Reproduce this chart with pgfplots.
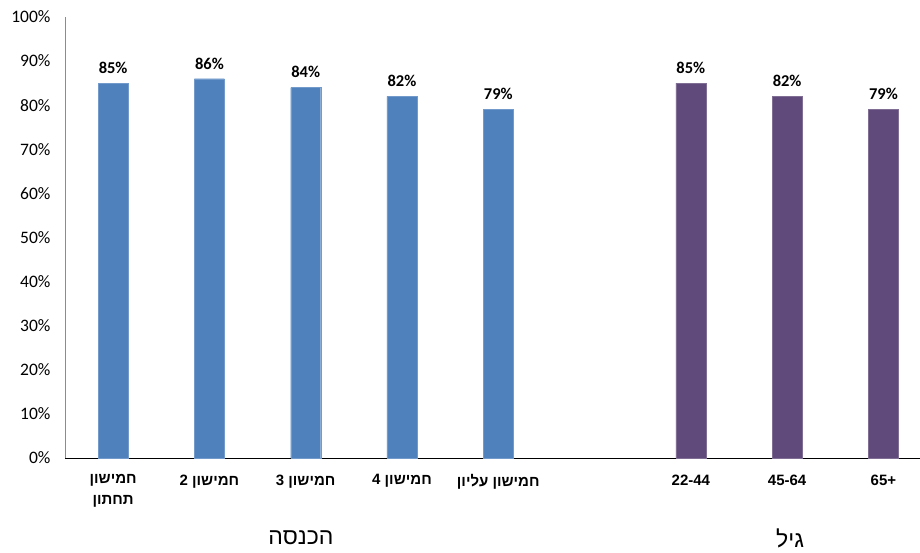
\documentclass[border=0pt]{standalone}
\usepackage{fontspec}
\usepackage{pgfplots}
\pgfplotsset{compat=1.18}
\setmainfont{Carlito}
\newfontfamily\heb[Script=Hebrew]{Liberation Sans}
\newfontfamily\lat{Liberation Sans}
\TeXXeTstate=1
\definecolor{cblue}{HTML}{4F81BD}
\definecolor{cpurple}{HTML}{604A7B}
\begin{document}
\begin{tikzpicture}
\useasboundingbox (0,0) rectangle (920pt,552pt);
\begin{axis}[
  at={(65pt,94pt)}, anchor=south west,
  scale only axis, width=855pt, height=441pt,
  ymin=0, ymax=100, xmin=-0.5, xmax=8.38,
  ytick={0,10,...,100},
  yticklabel={\pgfmathprintnumber{\tick}\%},
  /pgf/number format/assume math mode=true,
  yticklabel style={font=\fontsize{17.5}{19}\selectfont, xshift=-11pt},
  xtick={0,1,2,3,4,6,7,8},
  xticklabels={{\beginR חמישון\endR\\\beginR תחתון\endR},{\beginR חמישון 2\endR},{\beginR חמישון 3\endR},{\beginR חמישון 4\endR},{\beginR חמישון עליון\endR},{\lat 22-44},{\lat 45-64},{\lat 65+}},
  xticklabel style={font=\heb\bfseries\fontsize{15}{21}\selectfont, align=center, anchor=north, yshift=-13pt},
  major tick length=0pt,
  axis x line*=bottom, axis y line*=left,
  x axis line style={black, line width=1pt, -},
  y axis line style={gray!90, line width=0.8pt, -},
  clip=false,
  ybar, bar width=30pt, bar shift=0pt,
  nodes near coords={\pgfmathprintnumber{\pgfplotspointmeta}\%},
  nodes near coords style={font=\bfseries\fontsize{16.5}{18}\selectfont, black, yshift=6pt},
]
\addplot[fill=cblue, draw=cblue!80!white] coordinates {(0,85) (1,86) (2,84) (3,82) (4,79)};
\addplot[fill=cpurple, draw=cpurple!80!white] coordinates {(6,85) (7,82) (8,79)};
\node[font=\heb\fontsize{23}{26}\selectfont] at ([yshift=-80pt]axis cs:1.95,0) {\beginR הכנסה\endR};
\node[font=\heb\fontsize{23}{26}\selectfont] at ([yshift=-80pt]axis cs:7.03,0) {\beginR גיל\endR};
\end{axis}
\end{tikzpicture}
\end{document}
